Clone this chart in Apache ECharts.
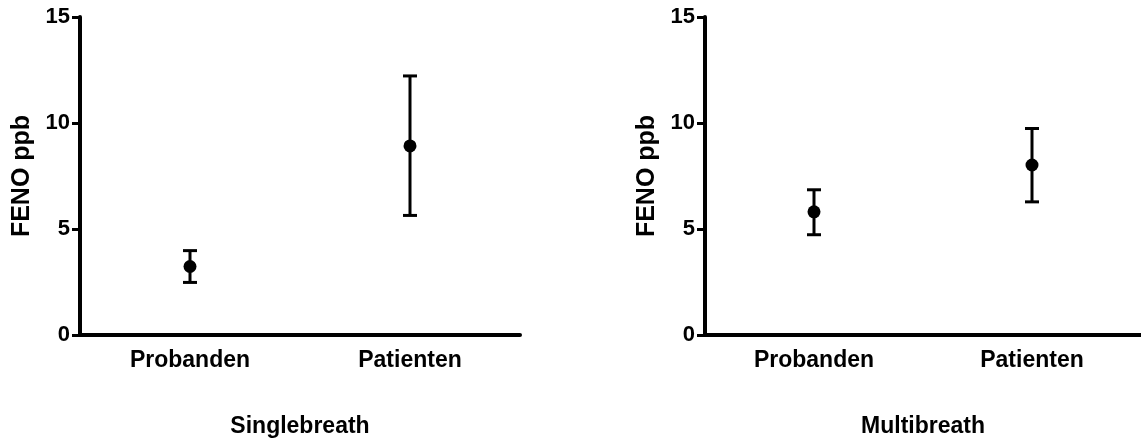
<!DOCTYPE html>
<html>
<head>
<meta charset="utf-8">
<script src="https://cdn.jsdelivr.net/npm/echarts@6/dist/echarts.min.js"></script>
<style>
html, body { margin: 0; padding: 0; background: #fff; }
#main { width: 1141px; height: 443px; }
</style>
</head>
<body>
<div id="main"></div>
<script>
var categories = ['Probanden', 'Patienten'];
var yTicks = [0, 5, 10, 15];

// Singlebreath: mean, lower and upper error bar ends
var singleMean = [3.23, 8.92];
var singleLow = [2.48, 5.64];
var singleHigh = [3.98, 12.22];

// Multibreath
var multiMean = [5.81, 8.02];
var multiLow = [4.73, 6.28];
var multiHigh = [6.85, 9.74];

var titles = ['Singlebreath', 'Multibreath'];

var font = 'Liberation Sans, Arial, Helvetica, sans-serif';

var myChart = echarts.init(document.getElementById('main'));

function errorData(low, high) {
    return categories.map(function (c, i) {
        return [i, low[i], high[i]];
    });
}

function renderError(params, api) {
    var lo = api.coord([api.value(0), api.value(1)]);
    var hi = api.coord([api.value(0), api.value(2)]);
    var half = 7;
    var style = { stroke: '#000', lineWidth: 3 };
    return {
        type: 'group',
        children: [
            { type: 'line', shape: { x1: lo[0], y1: lo[1], x2: hi[0], y2: hi[1] }, style: style },
            { type: 'line', shape: { x1: lo[0] - half, y1: lo[1], x2: lo[0] + half, y2: lo[1] }, style: style },
            { type: 'line', shape: { x1: hi[0] - half, y1: hi[1], x2: hi[0] + half, y2: hi[1] }, style: style }
        ]
    };
}

function xAxis(idx) {
    return {
        type: 'category',
        gridIndex: idx,
        data: categories,
        name: titles[idx],
        nameLocation: 'middle',
        nameGap: 80,
        nameTextStyle: { fontFamily: font, fontWeight: 'bold', fontSize: 23, color: '#000' },
        axisLine: { lineStyle: { color: '#000', width: 4 } },
        axisTick: { alignWithLabel: true, length: 8, lineStyle: { color: '#000', width: 3 } },
        axisLabel: { margin: 14, fontFamily: font, fontWeight: 'bold', fontSize: 23, color: '#000' },
        splitLine: { show: false }
    };
}

function yAxis(idx) {
    return {
        type: 'value',
        gridIndex: idx,
        min: yTicks[0],
        max: yTicks[yTicks.length - 1],
        interval: 5,
        name: 'FENO ppb',
        nameLocation: 'middle',
        nameGap: 45,
        nameRotate: 90,
        nameTextStyle: { fontFamily: font, fontWeight: 'bold', fontSize: 25, color: '#000' },
        axisLine: { show: true, lineStyle: { color: '#000', width: 4 } },
        axisTick: { show: true, length: 8, lineStyle: { color: '#000', width: 3 } },
        axisLabel: { margin: 10, fontFamily: font, fontWeight: 'bold', fontSize: 22, color: '#000' },
        splitLine: { show: false }
    };
}

var option = {
    animation: false,
    backgroundColor: '#fff',
    grid: [
        { left: 80, top: 17, width: 440, height: 319.5 },
        { left: 705, top: 17, width: 440, height: 319.5 }
    ],
    xAxis: [xAxis(0), xAxis(1)],
    yAxis: [yAxis(0), yAxis(1)],
    series: [
        {
            type: 'custom', xAxisIndex: 0, yAxisIndex: 0,
            renderItem: renderError, data: errorData(singleLow, singleHigh)
        },
        {
            type: 'scatter', xAxisIndex: 0, yAxisIndex: 0,
            symbolSize: 13, itemStyle: { color: '#000', opacity: 1 },
            data: singleMean
        },
        {
            type: 'custom', xAxisIndex: 1, yAxisIndex: 1,
            renderItem: renderError, data: errorData(multiLow, multiHigh)
        },
        {
            type: 'scatter', xAxisIndex: 1, yAxisIndex: 1,
            symbolSize: 13, itemStyle: { color: '#000', opacity: 1 },
            data: multiMean
        }
    ]
};

myChart.setOption(option);
</script>
</body>
</html>
